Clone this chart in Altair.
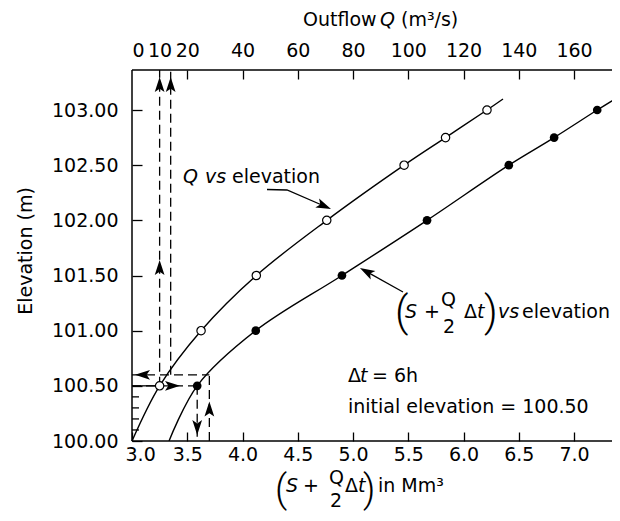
import altair as alt
import pandas as pd

# ---------------- data ----------------
ELEVATION = [100.5, 101.0, 101.5, 102.0, 102.5, 102.75, 103.0]          # m
STORAGE_IND = [3.59, 4.12, 4.90, 5.67, 6.41, 6.82, 7.21]                # S + Q/2 dt, Mm3
OUTFLOW = [10.0, 25.0, 45.0, 70.5, 98.5, 113.5, 128.5]                  # Q, m3/s
STORAGE_CURVE_START = (3.335, 100.0)
STORAGE_CURVE_END = (7.42, 103.13)
OUTFLOW_CURVE_START = (0.0, 100.0)
OUTFLOW_CURVE_END = (134.3, 103.10)

X_TICKS = [3.0, 3.5, 4.0, 4.5, 5.0, 5.5, 6.0, 6.5, 7.0]
Y_TICKS = [100.0, 100.5, 101.0, 101.5, 102.0, 102.5, 103.0]
Y_MINOR = [100.1, 100.2, 100.3, 100.4]
Q_TICKS = [0, 10, 20, 40, 60, 80, 100, 120, 140, 160]

# first routing step (trial)
INIT_ELEV = 100.5
INIT_IND = 3.59
INIT_Q = 10
TRIAL_IND = 3.70
TRIAL_ELEV = 100.6
TRIAL_Q = 14

# ---------------- layout ----------------
W, H = 480, 371
PX_PER_X = 110.5
PX_PER_Y = 110.33
XMAX = 3.0 + W / PX_PER_X
YMAX = 100.0 + H / PX_PER_Y
QMAX = 40.0 * (XMAX - 3.0)
OX, OY = 132, 70
FONT = "DejaVu Sans"
PFONT = "Roboto"
FS = 19
ARROW = "M0,-1L0.65,1L0,0.55L-0.65,1Z"

XS = alt.Scale(domain=[3.0, XMAX], nice=False, zero=False)
QS = alt.Scale(domain=[0.0, QMAX], nice=False, zero=False)
YS = alt.Scale(domain=[100.0, YMAX], nice=False, zero=False)

AX_B = alt.Axis(orient="bottom", values=X_TICKS, format=".1f", title=None, domain=False,
                grid=False, tickSize=9, offset=-9, tickColor="black", tickWidth=1.3,
                labelFont=FONT, labelFontSize=FS, labelColor="black", labelPadding=4,
                labelFlush=True, labelFlushOffset=7)
AX_T = alt.Axis(orient="top", values=Q_TICKS, format="d", title=None, domain=False,
                grid=False, tickSize=9, offset=-9, tickColor="black", tickWidth=1.3,
                tickOpacity={"condition": {"test": "datum.value < 15", "value": 0}, "value": 1},
                labelFont=FONT, labelFontSize=FS, labelColor="black", labelPadding=10,
                labelFlush=True)
AX_L = alt.Axis(orient="left", values=Y_TICKS, format=".2f", title=None, domain=False,
                grid=False, tickSize=10, offset=-10, tickColor="black", tickWidth=1.3,
                labelFont=FONT, labelFontSize=FS, labelColor="black", labelPadding=14)


def XA():
    return alt.X("x:Q", scale=XS, axis=AX_B)


def XB():
    return alt.X("q:Q", scale=QS, axis=AX_T)


def YY():
    return alt.Y("y:Q", scale=YS, axis=AX_L)


def px2x(px):
    return 3.0 + (px - OX) / PX_PER_X


def py2y(py):
    return 100.0 + (OY + H - py) / PX_PER_Y


ONE = pd.DataFrame({"k": [0]})


def txt(s, px, py, italic=False, size=FS, font=FONT, align="left", angle=0, weight="normal"):
    return alt.Chart(ONE).mark_text(
        text=s, font=font, fontSize=size, fontStyle="italic" if italic else "normal",
        fontWeight=weight, align=align, baseline="alphabetic", color="black", angle=angle
    ).encode(x=alt.value(px - OX), y=alt.value(py - OY))


def paren(s, px, py, size=38):
    return txt(s, px, py, size=size, font=PFONT, weight=300)


# ---------------- group A : (S + Q/2 dt) scale ----------------
storage_curve = pd.DataFrame({
    "x": [STORAGE_CURVE_START[0]] + STORAGE_IND + [STORAGE_CURVE_END[0]],
    "y": [STORAGE_CURVE_START[1]] + ELEVATION + [STORAGE_CURVE_END[1]],
})
storage_pts = pd.DataFrame({"x": STORAGE_IND, "y": ELEVATION})

segA = pd.DataFrame([
    {"seg": "a", "x": 3.0, "y": INIT_ELEV},
    {"seg": "a", "x": INIT_IND, "y": INIT_ELEV},
    {"seg": "b", "x": INIT_IND, "y": INIT_ELEV},
    {"seg": "b", "x": INIT_IND, "y": 100.0},
    {"seg": "c", "x": TRIAL_IND, "y": 100.0},
    {"seg": "c", "x": TRIAL_IND, "y": TRIAL_ELEV},
    {"seg": "d", "x": TRIAL_IND, "y": TRIAL_ELEV},
    {"seg": "d", "x": 3.0, "y": TRIAL_ELEV},
])
headsA = pd.DataFrame([
    {"x": px2x(172.5), "y": INIT_ELEV, "ang": 90},
    {"x": INIT_IND, "y": py2y(427.5), "ang": 180},
    {"x": TRIAL_IND, "y": py2y(409), "ang": 0},
    {"x": px2x(142.5), "y": TRIAL_ELEV, "ang": 270},
])
leaders = pd.DataFrame([
    {"seg": "q", "i": 0, "x": px2x(267), "y": py2y(189.5)},
    {"seg": "q", "i": 1, "x": px2x(287), "y": py2y(190)},
    {"seg": "q", "i": 2, "x": px2x(324.1), "y": py2y(206)},
    {"seg": "s", "i": 0, "x": px2x(403), "y": py2y(292)},
    {"seg": "s", "i": 1, "x": px2x(366.5), "y": py2y(271.6)},
])
leader_heads = pd.DataFrame([
    {"x": px2x(324.1), "y": py2y(206), "ang": 113},
    {"x": px2x(366.5), "y": py2y(271.6), "ang": 299},
])

frame = [
    alt.Chart(ONE).mark_rule(color="black", strokeWidth=1.5).encode(
        x=alt.value(0), y=alt.value(0), y2=alt.value(H)),
    alt.Chart(ONE).mark_rule(color="black", strokeWidth=1.5).encode(
        x=alt.value(0), x2=alt.value(W), y=alt.value(0)),
    alt.Chart(ONE).mark_rule(color="black", strokeWidth=1.5).encode(
        x=alt.value(0), x2=alt.value(W), y=alt.value(H)),
]
minor = alt.Chart(pd.DataFrame({"y": Y_MINOR})).mark_rule(color="black", strokeWidth=1.3).encode(
    y=YY(), x=alt.value(0), x2=alt.value(7))

storage_line = alt.Chart(storage_curve).mark_line(
    color="black", strokeWidth=1.4, interpolate="catmull-rom", clip=True).encode(x=XA(), y=YY())
storage_marks = alt.Chart(storage_pts).mark_point(
    shape="circle", filled=True, color="black", size=75, opacity=1).encode(x=XA(), y=YY())
dashA = alt.Chart(segA).mark_line(color="black", strokeWidth=1.3, strokeDash=[9, 5]).encode(
    x=XA(), y=YY(), detail="seg:N")
headA = alt.Chart(headsA).mark_point(shape=ARROW, filled=True, color="black", size=225,
                                     opacity=1, strokeWidth=0).encode(
    x=XA(), y=YY(), angle=alt.Angle("ang:Q", scale=None))
leader_lines = alt.Chart(leaders).mark_line(color="black", strokeWidth=1.3).encode(
    x=XA(), y=YY(), detail="seg:N", order="i:O")
leader_head = alt.Chart(leader_heads).mark_point(shape=ARROW, filled=True, color="black",
                                                 size=225, opacity=1, strokeWidth=0).encode(
    x=XA(), y=YY(), angle=alt.Angle("ang:Q", scale=None))

texts = [
    # top title
    txt("Outflow", 303, 26), txt("Q", 380, 26, italic=True), txt("(m³/s)", 401, 26),
    # y title
    txt("Elevation (m)", 32, 251, angle=270, align="center"),
    # bottom title
    paren("(", 275, 502), txt("S", 286, 492, italic=True), txt("+", 303, 492),
    txt("Q", 329, 484), txt("2", 330, 507), txt("Δ", 345, 492), txt("t", 358, 492, italic=True),
    paren(")", 363, 502), txt("in Mm³", 378, 492),
    # Q vs elevation
    txt("Q", 183, 183, italic=True), txt("vs", 205, 183, italic=True), txt("elevation", 232, 183),
    # (S + Q/2 dt) vs elevation
    paren("(", 395, 326, size=42), txt("S", 405, 318, italic=True), txt("+", 424, 318),
    txt("Q", 441, 306), txt("2", 443, 333), txt("Δ", 464, 318), txt("t", 477, 318, italic=True),
    paren(")", 484, 326, size=42), txt("vs", 498, 318, italic=True), txt("elevation", 522, 318),
    # info
    txt("Δ", 348, 382), txt("t", 360, 382, italic=True), txt("= 6h", 372, 382),
    txt("initial elevation = 100.50", 348, 413),
]

groupA = alt.layer(storage_line, *frame, minor, dashA, headA, leader_lines, leader_head,
                   storage_marks, *texts)

# ---------------- group B : outflow Q scale ----------------
outflow_curve = pd.DataFrame({
    "q": [OUTFLOW_CURVE_START[0]] + OUTFLOW + [OUTFLOW_CURVE_END[0]],
    "y": [OUTFLOW_CURVE_START[1]] + ELEVATION + [OUTFLOW_CURVE_END[1]],
})
outflow_pts = pd.DataFrame({"q": OUTFLOW, "y": ELEVATION})
solidB = pd.DataFrame([{"seg": "s", "q": 0.0, "y": INIT_ELEV}, {"seg": "s", "q": INIT_Q, "y": INIT_ELEV}])
segB = pd.DataFrame([
    {"seg": "e", "q": INIT_Q, "y": INIT_ELEV},
    {"seg": "e", "q": INIT_Q, "y": YMAX},
    {"seg": "f", "q": TRIAL_Q, "y": TRIAL_ELEV},
    {"seg": "f", "q": TRIAL_Q, "y": YMAX},
])
headsB = pd.DataFrame([
    {"q": INIT_Q, "y": py2y(267.5), "ang": 0},
    {"q": INIT_Q, "y": py2y(84.5), "ang": 0},
    {"q": TRIAL_Q, "y": py2y(84.5), "ang": 0},
])

outflow_line = alt.Chart(outflow_curve).mark_line(
    color="black", strokeWidth=1.4, interpolate="catmull-rom").encode(x=XB(), y=YY())
solid_line = alt.Chart(solidB).mark_line(color="black", strokeWidth=1.3).encode(
    x=XB(), y=YY(), detail="seg:N")
dashB = alt.Chart(segB).mark_line(color="black", strokeWidth=1.3, strokeDash=[9, 5]).encode(
    x=XB(), y=YY(), detail="seg:N")
headB = alt.Chart(headsB).mark_point(shape=ARROW, filled=True, color="black", size=225,
                                     opacity=1, strokeWidth=0).encode(
    x=XB(), y=YY(), angle=alt.Angle("ang:Q", scale=None))
outflow_marks = alt.Chart(outflow_pts).mark_point(
    shape="circle", filled=True, fill="white", stroke="black", strokeWidth=1.2,
    size=70, opacity=1).encode(x=XB(), y=YY())

groupB = alt.layer(outflow_line, solid_line, dashB, headB, outflow_marks)

chart = alt.layer(groupA, groupB).resolve_scale(x="independent").properties(
    width=W, height=H,
    padding={"left": 124, "top": 62, "right": 0, "bottom": 72},
    autosize=alt.AutoSizeParams(type="none"),
    background="white",
).configure_view(stroke=None)

chart.save("out.html", embed_options={"renderer": "svg", "actions": False})
